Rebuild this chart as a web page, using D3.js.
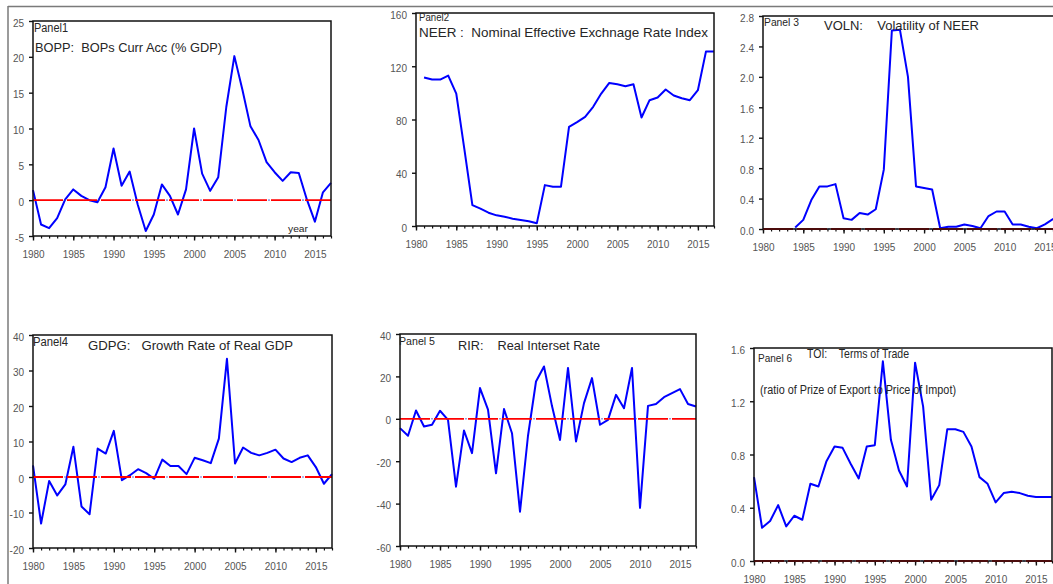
<!DOCTYPE html>
<html>
<head>
<meta charset="utf-8">
<script src="https://cdn.jsdelivr.net/npm/d3@7"></script>
<style>
  body { margin: 0; background: #fff; }
  svg { display: block; font-family: "Liberation Sans", Arial, sans-serif; }
  .ptitle { white-space: pre; }
</style>
</head>
<body>
<svg id="chart" width="1053" height="584"></svg>
<script>
// annual observations
var years = [1980,1981,1982,1983,1984,1985,1986,1987,1988,1989,
             1990,1991,1992,1993,1994,1995,1996,1997,1998,1999,
             2000,2001,2002,2003,2004,2005,2006,2007,2008,2009,
             2010,2011,2012,2013,2014,2015,2016,2017];

var bopp = [1.4,-3.4,-3.9,-2.5,0.1,1.5,0.6,0.0,-0.3,1.8,
            7.2,2.0,4.0,-0.6,-4.3,-2.0,2.2,0.6,-2.0,1.5,
            10.0,3.7,1.3,3.2,13.0,20.1,15.4,10.3,8.4,5.3,
            3.9,2.7,3.9,3.8,0.1,-3.0,1.1,2.4];

var neer = [null,111.5,110,110,113,99.5,58,15.7,13,10,
            8,7,5.5,4.5,3.5,2,30.7,29.5,29.5,74.5,
            78,82,89.5,99.5,107.5,106.5,105,106.5,81.5,94.5,
            96.5,102.5,98,96,94.5,102,131,131];

var voln = [null,null,null,null,0.02,0.12,0.38,0.56,0.56,0.59,
            0.14,0.12,0.21,0.19,0.26,0.78,2.61,2.62,2.0,0.56,
            0.54,0.52,0.01,0.03,0.03,0.06,0.04,0.01,0.17,0.23,
            0.23,0.06,0.06,0.03,0.01,0.06,0.13,0.15];

var gdpg = [3.3,-13.1,-1.1,-5.2,-2.1,8.5,-8.3,-10.5,8.0,6.6,
            13.0,-0.9,0.5,2.2,1.1,-0.5,4.9,3.1,3.1,0.8,
            5.4,4.7,3.9,10.8,33.3,3.8,8.3,6.8,6.1,6.8,
            7.7,5.2,4.2,5.4,6.1,2.8,-1.9,0.8];

var rir = [-4.4,-8.0,3.9,-3.6,-2.8,3.8,-0.5,-32,-5.5,-16.2,
           14.5,4.3,-25.7,4.6,-6.8,-43.8,-8,17.6,24.7,6,
           -10,24,-10.7,7.4,19.2,-2.8,-0.5,11.3,5,24,
           -42,6.1,7,10.2,12.1,14,7,5.8];

var toi = [0.63,0.25,0.30,0.42,0.26,0.34,0.31,0.58,0.56,0.75,
           0.86,0.85,0.73,0.62,0.86,0.87,1.50,0.91,0.68,0.56,
           1.49,1.16,0.46,0.57,0.99,0.99,0.97,0.86,0.63,0.58,
           0.44,0.51,0.52,0.51,0.49,0.48,0.48,0.48];

// tick labels
var xTicks = [1980,1985,1990,1995,2000,2005,2010,2015];
var boppTicks = [-5,0,5,10,15,20,25];
var neerTicks = [0,40,80,120,160];
var volnTicks = [0,0.4,0.8,1.2,1.6,2.0,2.4,2.8];
var gdpgTicks = [-20,-10,0,10,20,30,40];
var rirTicks = [-60,-40,-20,0,20,40];
var toiTicks = [0,0.4,0.8,1.2,1.6];

var svg = d3.select("#chart");

// plain hyphen for negatives, like the original graph
function fmtInt(d) { return String(d3.format("d")(d)).replace("\u2212", "-"); }
function fmtDec(d) { return d3.format(".1f")(d).replace("\u2212", "-"); }

// page frame (grey)
svg.append("line").attr("x1",8).attr("x2",1053).attr("y1",6.5).attr("y2",6.5)
   .attr("stroke","#7a7a7a").attr("stroke-width",1.5);
svg.append("line").attr("x1",8).attr("x2",8).attr("y1",6).attr("y2",584)
   .attr("stroke","#7a7a7a").attr("stroke-width",1.5);

var panels = [
  {data: bopp, ticks: boppTicks, fmt: fmtInt, zero: true,
   box: {l:33, r:331, t:21, b:236},
   texts: [{s:"Panel1", x:34, y:32, w:34, f:12},
           {s:"BOPP:  BOPs Curr Acc (% GDP)", x:35, y:52, w:187, f:13},
           {s:"year", x:288, y:232, w:20, f:9}]},
  {data: neer, ticks: neerTicks, fmt: fmtInt, zero: false,
   box: {l:416, r:714, t:13, b:226},
   texts: [{s:"Panel2", x:419, y:21, w:30, f:11},
           {s:"NEER :  Nominal Effective Exchnage Rate Index", x:419, y:37, w:289, f:13}]},
  {data: voln, ticks: volnTicks, fmt: fmtDec, zero: true,
   box: {l:763, r:1061, t:16, b:229},
   texts: [{s:"Panel 3", x:764, y:26, w:35, f:11},
           {s:"VOLN:    Volatility of NEER", x:824, y:30, w:155, f:13}]},
  {data: gdpg, ticks: gdpgTicks, fmt: fmtInt, zero: true,
   box: {l:33, r:332, t:335, b:548},
   texts: [{s:"Panel4", x:33, y:346, w:35, f:12},
           {s:"GDPG:   Growth Rate of Real GDP", x:88, y:350, w:205, f:13}]},
  {data: rir, ticks: rirTicks, fmt: fmtInt, zero: true,
   box: {l:400, r:696, t:334, b:546},
   texts: [{s:"Panel 5", x:399, y:345, w:36, f:11},
           {s:"RIR:    Real Interset Rate", x:458, y:350, w:142, f:13}]},
  {data: toi, ticks: toiTicks, fmt: fmtDec, zero: true,
   box: {l:754, r:1052, t:348, b:561},
   texts: [{s:"Panel 6", x:758, y:362, w:34, f:11},
           {s:"TOI:    Terms of Trade", x:807, y:358, w:102, f:13},
           {s:"(ratio of Prize of Export to Price of Impot)", x:760, y:394, w:196, f:12}]}
];

panels.forEach(function(p) {
  var b = p.box;
  var x = d3.scaleLinear().domain([1980, 2017]).range([b.l, b.r]);
  var y = d3.scaleLinear().domain(d3.extent(p.ticks)).range([b.b, b.t]);
  var g = svg.append("g");

  // minor year ticks
  g.append("g").attr("transform","translate(0,"+b.b+")")
    .call(d3.axisBottom(x).tickValues(years).tickSize(2.5).tickFormat(""))
    .call(function(a){ a.select(".domain").remove(); a.selectAll("line").attr("stroke","#111").attr("stroke-width",1.2); });

  // major ticks + labels
  g.append("g").attr("transform","translate(0,"+b.b+")")
    .call(d3.axisBottom(x).tickValues(xTicks).tickSize(4.5).tickPadding(10).tickFormat(d3.format("d")))
    .call(function(a){
      a.select(".domain").remove();
      a.selectAll("line").attr("stroke","#111").attr("stroke-width",1.4);
      a.selectAll("text").attr("fill","#555").style("font-size","10px")
       .attr("font-family","'Liberation Sans', Arial, sans-serif");
    });

  // y axis
  g.append("g").attr("transform","translate("+b.l+",0)")
    .call(d3.axisLeft(y).tickValues(p.ticks).tickSize(4).tickPadding(5).tickFormat(p.fmt))
    .call(function(a){
      a.select(".domain").remove();
      a.selectAll("line").attr("stroke","#111").attr("stroke-width",1.4);
      a.selectAll("text").attr("fill","#555").style("font-size","10px").attr("dy","0.5em")
       .attr("font-family","'Liberation Sans', Arial, sans-serif");
    });

  // series
  var line = d3.line()
    .defined(function(d){ return d.v != null; })
    .x(function(d){ return x(d.yr); })
    .y(function(d){ return y(d.v); });
  var pts = years.map(function(yr, i){ return {yr: yr, v: p.data[i]}; });
  g.append("path").datum(pts).attr("d", line)
    .attr("fill","none").attr("stroke","#0000ff").attr("stroke-width",2)
    .attr("stroke-linejoin","round");

  // zero line
  if (p.zero) {
    var y0 = y(0);
    g.append("line").attr("x1",b.l).attr("x2",b.r).attr("y1",y0).attr("y2",y0)
      .attr("stroke","#ff0000").attr("stroke-width",1.8).attr("stroke-dasharray","30,4");
    g.append("line").attr("x1",b.l).attr("x2",b.r).attr("y1",y0).attr("y2",y0)
      .attr("stroke","#3a3ac8").attr("stroke-width",1.6).attr("stroke-dasharray","1,33")
      .attr("stroke-dashoffset",2.5);
  }

  // frame
  g.append("rect").attr("x",b.l).attr("y",b.t).attr("width",b.r-b.l).attr("height",b.b-b.t)
    .attr("fill","none").attr("stroke","#111").attr("stroke-width",1.5);

  // panel texts
  p.texts.forEach(function(t){
    g.append("text").attr("class","ptitle").attr("x",t.x).attr("y",t.y).text(t.s)
      .attr("fill","#262626").style("font-size",t.f+"px")
      .attr("textLength",t.w).attr("lengthAdjust","spacingAndGlyphs");
  });
});
</script>
</body>
</html>
